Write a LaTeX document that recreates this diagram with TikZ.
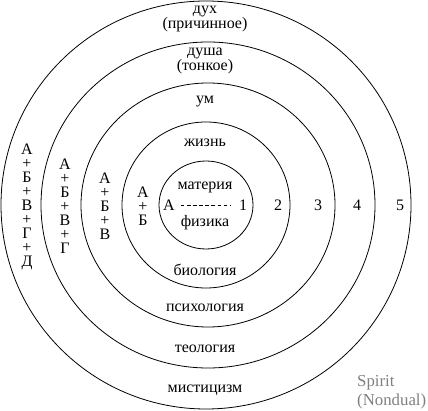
\documentclass[tikz,border=0pt]{standalone}
\usepackage{fontspec}
\setmainfont{Liberation Serif}
\definecolor{spiritgrey}{gray}{0.5}
\tikzset{
  ring/.style={draw=black, line width=0.8pt},
  lbl/.style={font=\fontsize{16}{15}\selectfont, inner sep=0pt, align=center},
  stack/.style={font=\fontsize{16}{14}\selectfont, inner sep=0pt, align=center},
  num/.style={font=\fontsize{16}{15}\selectfont, inner sep=0pt},
}
\begin{document}
\begin{tikzpicture}[x=1pt,y=-1pt]
\useasboundingbox (0,0) rectangle (428,411);
\coordinate (c) at (206,205);
\coordinate (cw) at (208,205);
\draw[ring] (c) ellipse [x radius=47, y radius=44];
\draw[ring] (c) ellipse [x radius=84, y radius=83];
\draw[ring] (cw) ellipse [x radius=127, y radius=122];
\draw[ring] (cw) ellipse [x radius=167, y radius=163];
\draw[ring] (c) ellipse [x radius=205, y radius=204];

\node[lbl] (dukh) at (205,19) {дух\\(причинное)};
\node[lbl] (dusha) at (205,61) {душа\\(тонкое)};
\node[lbl] (um) at (205,102) {ум};
\node[lbl] (zhizn) at (205,143) {жизнь};
\node[lbl] (materiya) at (205,187) {материя};
\node[lbl] (fizika) at (205,223) {физика};
\node[lbl] (biologiya) at (205,270) {биология};
\node[lbl] (psikh) at (205,308) {психология};
\node[lbl] (teol) at (205,349) {теология};
\node[lbl] (mist) at (205,390) {мистицизм};

\node[num] (a) at (169,205) {А};
\node[num] (n1) at (243,205) {1};
\draw[line width=0.6pt, dash pattern=on 3.5pt off 2.6pt, shorten <=6pt, shorten >=8pt] (a) -- (n1);
\node[num] (n2) at (278,205) {2};
\node[num] (n3) at (318,205) {3};
\node[num] (n4) at (357,205) {4};
\node[num] (n5) at (400,205) {5};

\node[stack] (s2) at (143,206) {А\\+\\Б};
\node[stack] (s3) at (105,206) {А\\+\\Б\\+\\В};
\node[stack] (s4) at (65,206) {А\\+\\Б\\+\\В\\+\\Г};
\node[stack] (s5) at (27,207) {А\\+\\Б\\+\\В\\+\\Г\\+\\Д};

\node[font=\fontsize{16.8}{19}\selectfont, inner sep=0pt, text=spiritgrey, anchor=west, align=left] (spirit) at (357,392) {Spirit\\(Nondual)};
\end{tikzpicture}
\end{document}
